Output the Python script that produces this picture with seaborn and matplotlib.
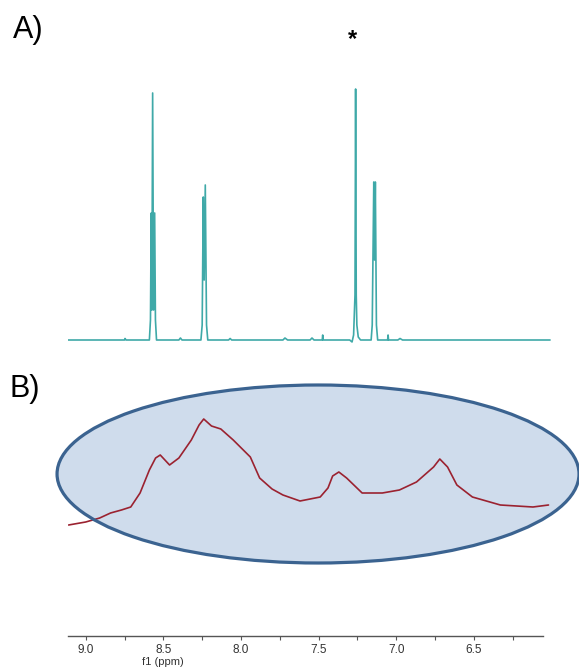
import numpy as np
import pandas as pd
import matplotlib
matplotlib.use("Agg")
import matplotlib.pyplot as plt
import matplotlib.transforms as mtransforms
from matplotlib.patches import Ellipse
import seaborn as sns

# =========================
# DATA
# =========================

# panel A - sharp 1H spectrum (ppm, intensity)
ppm_a = [9.114, 8.75, 8.747, 8.74, 8.60,
         8.590, 8.583, 8.578, 8.574, 8.569, 8.563, 8.556, 8.551, 8.544,
         8.40, 8.39, 8.38,
         8.258, 8.250, 8.243, 8.237, 8.230, 8.222, 8.214,
         8.08, 8.07, 8.06,
         7.73, 7.717, 7.70, 7.555, 7.543, 7.53, 7.477, 7.474, 7.471,
         7.30, 7.285, 7.275, 7.266, 7.262, 7.258, 7.254, 7.245, 7.23,
         7.162, 7.155, 7.145, 7.140, 7.135, 7.128, 7.120,
         7.056, 7.053, 7.050, 6.99, 6.976, 6.96, 6.01]
int_a = [0, 0, 1.5, 0, 0,
         0, 20, 127, 30, 247, 30, 127, 20, 0,
         0, 2, 0,
         0, 15, 143, 60, 155, 15, 0,
         0, 1.5, 0,
         0, 2, 0, 0, 2, 0, 0, 5, 0,
         0, -2, 5, 45, 251, 45, 15, 3, 0,
         0, 15, 158, 80, 158, 15, 0,
         0, 5, 0, 0, 1.5, 0, 0]

# panel B - broad spectrum (ppm, intensity)
ppm_b = [9.11, 9.00, 8.91, 8.84, 8.77, 8.71, 8.65, 8.59, 8.55, 8.52,
         8.49, 8.46, 8.40, 8.32, 8.27, 8.24, 8.19, 8.13, 8.05, 7.94,
         7.88, 7.80, 7.73, 7.62, 7.49, 7.44, 7.41, 7.37, 7.32, 7.22,
         7.09, 6.98, 6.87, 6.76, 6.72, 6.67, 6.61, 6.51, 6.33, 6.12, 6.02]
int_b = [111, 114, 118, 123, 126, 129, 143, 166, 178, 181,
         176, 171, 178, 196, 211, 217, 210, 207, 196, 179,
         158, 147, 141, 135, 139, 148, 160, 164, 158, 143,
         143, 146, 154, 169, 177, 169, 151, 139, 131, 129, 131]

major_ticks = [9.0, 8.5, 8.0, 7.5, 7.0, 6.5]
minor_ticks = [8.75, 8.25, 7.75, 7.25, 6.75, 6.25]
tick_labels = ["9.0", "8.5", "8.0", "7.5", "7.0", "6.5"]

df_a = pd.DataFrame({"ppm": ppm_a, "intensity": int_a})
df_b = pd.DataFrame({"ppm": ppm_b, "intensity": int_b})

# =========================
# STYLE
# =========================

sns.set_style("white")
plt.rcParams["font.family"] = ["Liberation Sans", "DejaVu Sans"]

fig = plt.figure(figsize=(5.79, 6.68), dpi=100)

x_left, x_right = 9.114, 6.0
ax_l = 68 / 579
ax_w = ((x_left - x_right) * 155.3) / 579

ax1 = fig.add_axes([ax_l, 1 - 345 / 668, ax_w, 265 / 668])
ax2 = fig.add_axes([ax_l, 1 - 636 / 668, ax_w, 266 / 668])

# =========================
# PANEL A
# =========================

sns.lineplot(data=df_a, x="ppm", y="intensity", ax=ax1, sort=False,
             estimator=None, color="#3fa9a8", linewidth=1.2)
ax1.set_xlim(x_left, x_right)
ax1.set_ylim(-5, 260)
ax1.axis("off")

# =========================
# PANEL B
# =========================

fill = Ellipse((7.504, 162), 3.361, 178, facecolor="#cfdcec",
               edgecolor="none", clip_on=False, zorder=1)
ax2.add_patch(fill)

sns.lineplot(data=df_b, x="ppm", y="intensity", ax=ax2, sort=False,
             estimator=None, color="#9b2230", linewidth=1.2, zorder=2)

edge = Ellipse((7.504, 162), 3.361, 178, facecolor="none",
               edgecolor="#3b6390", linewidth=2.3, clip_on=False, zorder=3)
ax2.add_patch(edge)

ax2.set_xlim(x_left, x_right)
ax2.set_ylim(0, 266)
for side in ["top", "right", "left"]:
    ax2.spines[side].set_visible(False)
ax2.spines["bottom"].set_bounds(9.114, 6.056)
ax2.spines["bottom"].set_color("#555555")
ax2.spines["bottom"].set_linewidth(1.0)
ax2.set_yticks([])
ax2.set_xticks(major_ticks)
ax2.set_xticklabels(tick_labels)
ax2.set_xticks(minor_ticks, minor=True)
ax2.tick_params(axis="x", which="both", direction="out", length=3,
                width=0.8, color="#555555", labelsize=8.5,
                labelcolor="#333333", pad=2.5, bottom=True)
ax2.set_xlabel("")
ax2.set_ylabel("")

trans = mtransforms.blended_transform_factory(ax2.transData, fig.transFigure)
ax2.text(8.5, 1 - 662 / 668, "f1 (ppm)", transform=trans, ha="center",
         va="center", fontsize=8, color="#333333")

# =========================
# LABELS
# =========================

fig.text(13 / 579, 1 - 30 / 668, "A)", fontsize=22, ha="left", va="center",
         color="black")
fig.text(10 / 579, 1 - 389 / 668, "B)", fontsize=22, ha="left", va="center",
         color="black")
fig.text(352 / 579, 1 - 40 / 668, "*", fontsize=17, fontweight="bold",
         ha="center", va="center", color="black")

fig.savefig("out.png", dpi=100)
